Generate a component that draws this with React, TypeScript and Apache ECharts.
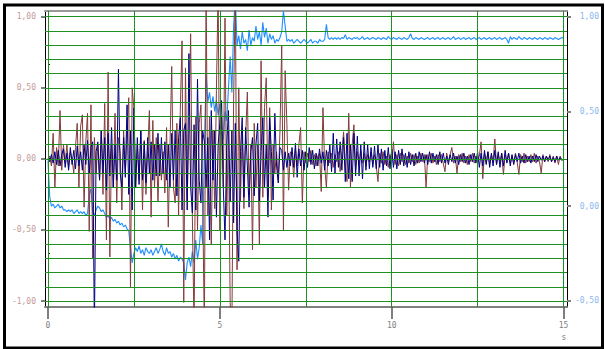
import React, { useEffect, useRef } from "react";
import * as echarts from "echarts";

const DT = 0.05;

const brown = [
  0.00, 0.02, -0.05, 0.18, -0.20, 0.08, -0.05, 0.34, -0.08, 0.10,
  -0.03, 0.10, -0.06, 0.05, 0.00, -0.10, 0.08, 0.25, -0.20, 0.23,
  0.31, -0.34, 0.12, 0.32, -0.51, 0.38, -0.70, 0.15, -0.10, 0.10,
  -0.15, 0.20, -0.25, 0.39, -0.57, 0.61, -0.69, 0.10, -0.20, 0.32,
  -0.31, 0.15, 0.05, -0.36, 0.20, -0.10, 0.18, 0.43, -0.90, 0.50,
  0.36, -0.20, 0.10, -0.15, 0.20, -0.36, 0.13, -0.25, 0.05, 0.34,
  -0.41, 0.27, -0.20, 0.15, -0.30, 0.10, -0.15, 0.05, -0.24, 0.22,
  -0.48, 0.10, 0.65, -0.20, -0.31, 0.25, -0.40, 0.35, 0.83, -1.01,
  0.64, -0.30, 0.20, 0.88, -0.40, -1.20, 0.30, -0.50, 0.25, 0.38,
  -0.30, -1.20, 1.20, -0.40, 0.30, -0.60, 0.20, -0.35, 0.48, 1.20,
  -0.50, 0.30, -0.20, 0.99, -0.40, 0.20, -1.01, -1.20, 0.40, 1.20,
  -0.78, 0.50, -0.30, 0.20, -0.35, 0.15, 0.47, -0.25, 0.10, -0.64,
  0.25, -0.20, 0.10, -0.60, 0.69, -0.27, 0.36, 0.57, -0.27, 0.36,
  -0.36, 0.10, -0.10, 0.05, -0.15, 0.20, 0.80, -0.50, 0.62, 0.25,
  -0.22, 0.05, 0.02, -0.13, 0.07, -0.05, 0.10, 0.22, -0.31, 0.05,
  -0.03, 0.04, -0.02, 0.06, -0.04, 0.03, -0.05, 0.02, 0.04, -0.23,
  0.36, -0.05, -0.20, 0.05, -0.03, 0.04, -0.06, 0.03, -0.02, 0.05,
  -0.09, 0.05, 0.19, -0.05, -0.16, 0.32, -0.20, 0.10, 0.24, -0.08,
  0.05, -0.04, 0.06, -0.03, 0.04, -0.05, 0.03, -0.02, 0.05, -0.04,
  0.03, -0.05, -0.16, 0.04, -0.03, 0.05, -0.04, 0.02, -0.06, 0.03,
  -0.03, 0.12, -0.04, 0.03, -0.05, 0.04, -0.02, 0.03, -0.04, 0.02,
  -0.03, 0.04, -0.02, 0.03, -0.04, 0.02, -0.03, 0.04, -0.02, 0.03,
  -0.20, 0.03, -0.02, 0.04, -0.03, 0.02, -0.04, 0.03, -0.02, 0.03,
  -0.03, -0.09, 0.04, -0.02, 0.03, 0.08, -0.03, 0.02, -0.10, 0.03,
  -0.02, 0.04, -0.03, 0.02, -0.04, 0.03, -0.02, 0.04, -0.03, 0.02,
  -0.03, 0.02, 0.12, -0.14, 0.04, -0.03, 0.05, -0.04, 0.03, -0.02,
  0.14, -0.04, 0.03, -0.02, 0.04, -0.11, 0.03, -0.02, 0.04, -0.03,
  0.02, -0.03, 0.04, -0.02, -0.11, 0.03, -0.02, 0.04, -0.03, 0.02,
  -0.02, 0.03, -0.02, 0.04, -0.03, 0.02, -0.02, -0.10, 0.03, -0.02,
  0.02, -0.02, 0.03, -0.02, 0.02, -0.03, 0.02, -0.04, 0.02, -0.01, 0.00,
];

const navy = [
  0.00, -0.02, 0.03, -0.03, 0.05, -0.04, 0.06, -0.05, 0.03, 0.07,
  -0.06, 0.04, -0.08, 0.08, -0.04, 0.06, -0.07, 0.09, -0.05, 0.05,
  -0.08, 0.10, -0.04, 0.13, -0.10, 0.08, 0.12, -1.20, 0.05, 0.12,
  -0.15, 0.20, -0.10, 0.15, -0.22, 0.18, -0.12, 0.22, -0.20, 0.10,
  -0.15, 0.63, -0.10, -0.20, 0.15, -0.13, 0.38, -0.25, 0.20, -0.36,
  0.36, -0.20, 0.15, -0.18, 0.20, -0.15, 0.12, -0.17, 0.15, -0.10,
  0.12, -0.15, 0.10, -0.12, 0.18, -0.12, 0.15, -0.10, 0.12, -0.15,
  0.10, -0.20, 0.18, -0.15, 0.20, -0.26, 0.15, 0.29, -0.36, 0.20,
  0.25, -0.36, 0.74, -0.20, -0.38, 0.24, -0.36, 0.56, -0.15, -0.31,
  0.20, 0.12, -0.20, 0.15, -0.57, 0.34, -0.15, 0.20, -0.41, 0.10,
  0.25, 0.41, -0.20, -0.57, 0.10, 0.34, -0.30, 0.20, -0.45, 0.25,
  -0.50, -0.72, 0.05, 0.29, -0.27, 0.22, -0.05, -0.34, 0.05, 0.15,
  -0.26, 0.10, 0.25, -0.30, 0.05, 0.29, -0.20, 0.10, -0.41, 0.29,
  0.05, -0.29, 0.32, -0.05, -0.17, 0.08, 0.06, -0.08, 0.05, -0.06,
  0.04, -0.05, 0.08, -0.06, 0.11, -0.13, 0.07, -0.05, 0.06, -0.08,
  0.05, -0.06, 0.08, -0.04, 0.06, -0.07, 0.04, -0.05, 0.07, -0.03,
  0.05, -0.08, 0.06, -0.05, 0.10, -0.09, 0.18, -0.10, 0.14, -0.06,
  0.12, -0.08, 0.15, -0.16, 0.18, -0.14, 0.10, -0.16, 0.18, -0.12,
  0.16, -0.12, 0.10, -0.14, 0.12, -0.08, 0.10, -0.07, 0.08, -0.06,
  0.09, -0.07, 0.10, -0.06, 0.07, -0.08, 0.06, -0.05, 0.08, -0.07,
  0.07, -0.06, 0.05, -0.07, 0.06, -0.04, 0.07, -0.05, 0.04, -0.06,
  0.05, -0.04, 0.03, -0.05, 0.04, -0.03, 0.05, -0.02, 0.04, -0.03,
  0.03, -0.04, 0.05, -0.03, 0.04, -0.02, 0.03, -0.04, 0.05, -0.03,
  0.04, -0.03, 0.02, -0.04, 0.03, -0.02, 0.04, -0.03, 0.02, -0.04,
  0.03, -0.02, 0.04, -0.03, 0.02, -0.04, 0.03, -0.02, 0.04, -0.03,
  0.05, -0.06, 0.04, -0.05, 0.06, -0.04, 0.05, -0.06, 0.04, -0.05,
  0.06, -0.04, 0.05, -0.06, 0.04, -0.05, 0.06, -0.03, 0.04, -0.05,
  0.03, -0.04, 0.03, -0.02, 0.04, -0.03, 0.02, -0.03, 0.03, -0.02,
  0.02, -0.03, 0.02, -0.02, 0.03, -0.02, 0.02, -0.01, 0.02, -0.02,
  0.02, -0.01, 0.02, -0.02, 0.01, -0.02, 0.02, -0.01, 0.01, -0.01, 0.00,
];

const blue = [
  0.24, 0.05, 0.00, 0.01, -0.01, 0.00, 0.01, -0.01, 0.00, -0.02,
  -0.02, -0.03, -0.02, -0.03, -0.02, -0.04, -0.03, -0.02, -0.04, -0.03,
  -0.04, -0.03, -0.05, -0.04, 0.06, 0.09, -0.03, -0.05, -0.02, 0.00,
  -0.01, -0.03, -0.02, -0.04, -0.06, -0.05, -0.07, -0.06, -0.08, -0.07,
  -0.09, -0.08, -0.10, -0.09, -0.11, -0.10, -0.12, -0.13, -0.22, -0.30,
  -0.25, -0.22, -0.24, -0.21, -0.25, -0.23, -0.26, -0.22, -0.24, -0.25,
  -0.23, -0.26, -0.24, -0.22, -0.25, -0.23, -0.20, -0.24, -0.26, -0.22,
  -0.25, -0.24, -0.27, -0.25, -0.28, -0.26, -0.29, -0.27, -0.28, -0.30,
  -0.39, -0.30, -0.27, -0.32, -0.24, -0.30, -0.18, -0.28, -0.22, -0.10,
  -0.20, 0.30, 0.70, 0.55, 0.60, 0.52, 0.58, 0.50, 0.56, 0.48,
  0.54, 0.40, 0.35, 0.50, 0.45, 0.62, 0.79, 0.60, 0.95, 1.10,
  0.85, 0.90, 0.83, 0.92, 0.86, 0.88, 0.82, 0.93, 0.85, 0.89,
  0.87, 0.95, 0.88, 0.92, 0.85, 0.97, 0.89, 0.94, 0.86, 0.91,
  0.88, 0.90, 0.86, 0.88, 0.87, 0.89, 0.92, 1.03, 0.95, 0.87,
  0.88, 0.87, 0.88, 0.86, 0.87, 0.88, 0.87, 0.86, 0.87, 0.88,
  0.87, 0.86, 0.87, 0.88, 0.86, 0.87, 0.87, 0.86, 0.88, 0.87,
  0.87, 0.88, 0.96, 0.89, 0.88, 0.89, 0.88, 0.89, 0.88, 0.89,
  0.880, 0.890, 0.885, 0.905, 0.880, 0.890, 0.885, 0.880, 0.890, 0.885,
  0.890, 0.880, 0.885, 0.895, 0.880, 0.885, 0.890, 0.880, 0.885, 0.890,
  0.885, 0.880, 0.890, 0.885, 0.880, 0.890, 0.885, 0.880, 0.895, 0.885,
  0.880, 0.890, 0.885, 0.880, 0.890, 0.885, 0.880, 0.890, 0.885, 0.880,
  0.890, 0.910, 0.885, 0.880, 0.890, 0.885, 0.880, 0.890, 0.885, 0.880,
  0.885, 0.890, 0.880, 0.885, 0.890, 0.880, 0.885, 0.890, 0.880, 0.885,
  0.890, 0.880, 0.885, 0.890, 0.880, 0.885, 0.895, 0.880, 0.885, 0.890,
  0.880, 0.885, 0.890, 0.880, 0.885, 0.890, 0.880, 0.885, 0.890, 0.880,
  0.885, 0.890, 0.880, 0.885, 0.890, 0.880, 0.885, 0.890, 0.880, 0.885,
  0.890, 0.880, 0.885, 0.890, 0.880, 0.885, 0.890, 0.880, 0.860, 0.895,
  0.880, 0.890, 0.885, 0.880, 0.895, 0.885, 0.880, 0.890, 0.885, 0.880,
  0.890, 0.885, 0.880, 0.890, 0.885, 0.880, 0.890, 0.885, 0.880, 0.890,
  0.885, 0.880, 0.890, 0.885, 0.880, 0.890, 0.885, 0.880, 0.885, 0.890, 0.885,
];

const xTickLabels = [0, 5, 10, 15];
const xGridLines = [0, 2.5, 5, 7.5, 10, 12.5, 15];
const leftTickLabels = [-1, -0.5, 0, 0.5, 1];
const leftMinorTicks = [-0.9, -0.8, -0.7, -0.6, -0.4, -0.3, -0.2, -0.1, 0.1, 0.2, 0.3, 0.4, 0.6, 0.7, 0.8, 0.9];
const leftGridLines = [-1, -0.9, -0.8, -0.7, -0.6, -0.5, -0.4, -0.3, -0.2, -0.1, 0, 0.1, 0.2, 0.3, 0.4, 0.5, 0.6, 0.7, 0.8, 0.9, 1];
const rightTickLabels = [-0.5, 0, 0.5, 1];
const rightMinorTicks = [-0.25, 0.25, 0.75];

const X_MIN = -0.087;
const X_MAX = 15.1;
const L_MIN = -1.042;
const L_MAX = 1.04;
const R_MIN = -0.533;
const R_MAX = 1.03;

const MONO = '"DejaVu Sans Mono", monospace';
const GREEN = "#1f8f1f";

const fmt = (v: number) => v.toFixed(2).replace(".", ",");
const toPairs = (arr: number[]) => arr.map((v, i) => [i * DT, v]);

export default function App() {
  const ref = useRef<HTMLDivElement>(null);
  useEffect(() => {
    if (!ref.current) return;
    const chart = echarts.init(ref.current, undefined, { renderer: "svg" });
    chart.setOption({
      animation: false,
      backgroundColor: "#ffffff",
      grid: { left: 45, right: 38, top: 11, bottom: 42 },
      xAxis: [
        {
          type: "value",
          min: X_MIN,
          max: X_MAX,
          position: "bottom",
          axisLine: { show: true, onZero: false, lineStyle: { color: "#808080", width: 2 } },
          axisTick: { show: true, customValues: xTickLabels, length: 12, lineStyle: { color: "#555555", width: 1.5 } },
          axisLabel: { customValues: xTickLabels, color: "#808080", fontFamily: MONO, fontSize: 8, margin: 14 },
          splitLine: { show: false },
        },
        {
          type: "value",
          min: X_MIN,
          max: X_MAX,
          position: "top",
          axisLine: { show: true, onZero: false, lineStyle: { color: "#999999", width: 2 } },
          axisTick: { show: false },
          axisLabel: { show: false },
          splitLine: { show: false },
        },
      ],
      yAxis: [
        {
          type: "value",
          min: L_MIN,
          max: L_MAX,
          position: "left",
          axisLine: { show: true, onZero: false, lineStyle: { color: "#000000", width: 1 } },
          axisTick: { show: true, customValues: leftTickLabels, length: 4, lineStyle: { color: "#808080", width: 2 } },
          axisLabel: { customValues: leftTickLabels, formatter: fmt, color: "#c49a9a", fontFamily: MONO, fontSize: 8, margin: 9 },
          splitLine: { show: false },
        },
        {
          type: "value",
          min: L_MIN,
          max: L_MAX,
          position: "left",
          axisLine: { show: false },
          axisTick: { show: true, customValues: leftMinorTicks, length: 2, lineStyle: { color: "#000000", width: 1 } },
          axisLabel: { show: false },
          splitLine: { show: false },
        },
        {
          type: "value",
          min: R_MIN,
          max: R_MAX,
          position: "right",
          axisLine: { show: true, onZero: false, lineStyle: { color: "#000000", width: 1 } },
          axisTick: { show: true, customValues: rightTickLabels, length: 4, lineStyle: { color: "#808080", width: 2 } },
          axisLabel: { customValues: rightTickLabels, formatter: fmt, color: "#8ab8ee", fontFamily: MONO, fontSize: 8, margin: 32, align: "right" },
          splitLine: { show: false },
        },
        {
          type: "value",
          min: R_MIN,
          max: R_MAX,
          position: "right",
          axisLine: { show: false },
          axisTick: { show: true, customValues: rightMinorTicks, length: 2, lineStyle: { color: "#000000", width: 1 } },
          axisLabel: { show: false },
          splitLine: { show: false },
        },
      ],
      series: [
        {
          type: "line",
          xAxisIndex: 0,
          yAxisIndex: 0,
          data: [[0, 0]],
          showSymbol: false,
          lineStyle: { opacity: 0 },
          z: 1,
          silent: true,
          markLine: {
            silent: true,
            symbol: ["none", "none"],
            label: { show: false },
            lineStyle: { color: GREEN, width: 1, type: "solid" },
            data: [
              ...xGridLines.map((x) => ({ xAxis: x })),
              ...leftGridLines.map((y) => ({ yAxis: y })),
            ],
          },
        },
        {
          name: "blue",
          type: "line",
          xAxisIndex: 0,
          yAxisIndex: 2,
          data: toPairs(blue),
          showSymbol: false,
          color: "#1e8fff",
          lineStyle: { width: 1.1, color: "#1e8fff" },
          z: 2,
        },
        {
          name: "brown",
          type: "line",
          xAxisIndex: 0,
          yAxisIndex: 0,
          data: toPairs(brown),
          showSymbol: false,
          color: "#843c3c",
          lineStyle: { width: 1, color: "#843c3c" },
          z: 3,
        },
        {
          name: "navy",
          type: "line",
          xAxisIndex: 0,
          yAxisIndex: 0,
          data: toPairs(navy),
          showSymbol: false,
          color: "#000080",
          lineStyle: { width: 1, color: "#000080" },
          z: 4,
        },
      ],
      graphic: [
        {
          type: "rect",
          silent: true,
          z: 100,
          shape: { x: 4.5, y: 5, width: 598, height: 343 },
          style: { fill: "none", stroke: "#000000", lineWidth: 3 },
        },
        {
          type: "text",
          x: 561.5,
          y: 333,
          style: { text: "s", fill: "#808080", font: '8px "DejaVu Sans Mono", monospace' },
        },
      ],
    });
    return () => chart.dispose();
  }, []);
  return (
    <div
      ref={ref}
      style={{ position: "absolute", left: 0, top: 0, width: 605, height: 349, background: "#fff" }}
    />
  );
}
